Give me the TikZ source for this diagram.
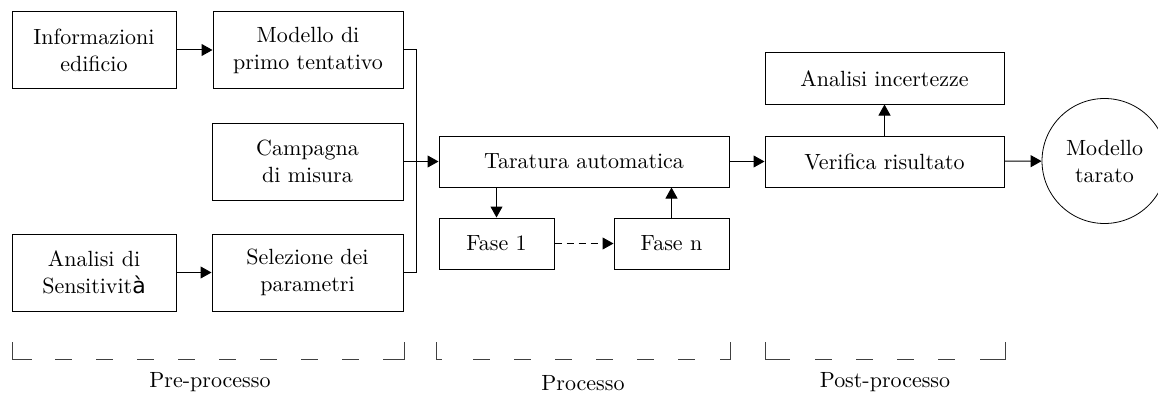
\documentclass[tikz,border=0pt]{standalone}
\usepackage{fontspec}
\setmainfont{lmroman10-regular}[Extension=.otf, BoldFont=lmroman10-bold, ItalicFont=lmroman10-italic]
\newfontfamily\accentfont{DejaVu Sans}
\usetikzlibrary{arrows.meta}
\begin{document}
\begin{tikzpicture}[x=1pt,y=-1pt,
  every node/.style={font=\fontsize{22}{27}\selectfont},
  block/.style={draw, line width=1pt, align=center, inner sep=0pt},
  bigblock/.style={block, minimum height=77pt},
  flatblock/.style={block, minimum height=51pt},
  flow/.style={line width=1pt, -{Triangle[length=11pt,width=12pt]}},
  bracket/.style={line width=1pt, draw=black!75},
  bracketdash/.style={bracket, dash pattern=on 17pt off 24pt}]
\useasboundingbox (0,0) rectangle (1158,396);

% pre-processing column
\node[bigblock, minimum width=164pt] (info) at (94,50) {Informazioni\\edificio};
\node[bigblock, minimum width=190pt] (modello) at (308,50) {Modello di\\primo tentativo};
\node[bigblock, minimum width=191pt] (campagna) at (307.5,161.5) {Campagna\\di misura};
\node[bigblock, minimum width=164pt] (sens) at (94,272.5) {Analisi di\\Sensitivit{\accentfont à}};
\node[bigblock, minimum width=191pt] (selezione) at (307.5,272.5) {Selezione dei\\parametri};

% calibration
\node[flatblock, minimum width=290pt] (taratura) at (584,161.5) {Taratura automatica};
\node[flatblock, minimum width=115pt] (fase1) at (496.5,243.5) {Fase 1};
\node[flatblock, minimum width=115pt] (fasen) at (671.5,243.5) {Fase n};

% post-processing
\node[flatblock, minimum width=239pt] (verifica) at (884.5,161.5) {Verifica risultato};
\node[flatblock, minimum width=239pt] (incert) at (884.5,78.5) {Analisi incertezze};
\node[draw, circle, line width=0.8pt, minimum size=125pt, inner sep=0pt, align=center] (finale) at (1104.5,161) {Modello\\tarato};

% connectors
\coordinate (bus) at (416,0);
\draw[flow] (info) -- (modello);
\draw[flow] (sens) -- (selezione);
\draw[line width=1pt] (modello.east) -| (bus |- selezione.east) -- (selezione.east);
\draw[flow] (campagna) -- (taratura);
\draw[flow] (fase1.north |- taratura.south) -- (fase1.north);
\draw[flow, dash pattern=on 7pt off 5pt] (fase1) -- (fasen);
\draw[flow] (fasen.north) -- (fasen.north |- taratura.south);
\draw[flow] (taratura) -- (verifica);
\draw[flow] (verifica) -- (incert);
\draw[flow] (verifica) -- (finale);

% phase brackets
\draw[bracket] (12,342) |- (32,359);
\draw[bracketdash] (55,359) -- (359,359);
\draw[bracket] (383,359) -| (404,342);
\node (pre) at (210,382) {Pre-processo};

\draw[bracket] (436,342) |- (442,359);
\draw[bracketdash] (473,359) -- (695,359);
\draw[bracket] (720,359) -| (730,342);
\node (proc) at (583,383) {Processo};

\draw[bracket] (765,342) |- (790,359);
\draw[bracketdash] (815,359) -- (955,359);
\draw[bracket] (980,359) -| (1005,342);
\node (post) at (885,382) {Post-processo};
\end{tikzpicture}
\end{document}
